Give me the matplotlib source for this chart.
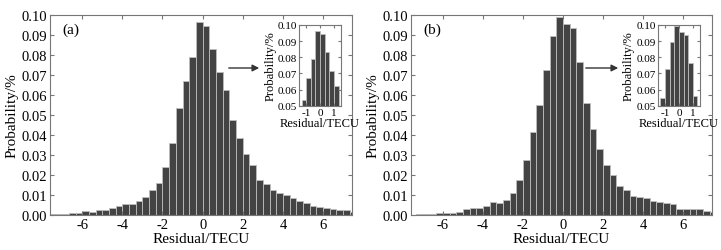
import numpy as np
import matplotlib
matplotlib.use("Agg")
import matplotlib.pyplot as plt

plt.rcParams["font.family"] = ["Liberation Serif", "DejaVu Serif"]
plt.rcParams["axes.unicode_minus"] = False

# bin index k -> bin [k/3, (k+1)/3] in TECU
bin_k = list(range(-23, 23))

prob_a = [0.0003, 0.0005, 0.0005, 0.0008, 0.0012, 0.0018, 0.0017, 0.0025,
          0.0025, 0.0035, 0.0045, 0.0055, 0.0057, 0.007, 0.009, 0.0125,
          0.016, 0.024, 0.036, 0.0535, 0.067, 0.079, 0.0965,
          0.0945, 0.083, 0.0715, 0.0625, 0.0475, 0.0385, 0.0305, 0.025,
          0.0175, 0.0155, 0.0125, 0.011, 0.0098, 0.0083, 0.0068, 0.0058,
          0.0045, 0.004, 0.0035, 0.003, 0.0025, 0.0023, 0.0015]

prob_b = [0.0002, 0.0003, 0.0005, 0.0005, 0.0008, 0.001, 0.0012, 0.0017,
          0.003, 0.0033, 0.0037, 0.0043, 0.0063, 0.0062, 0.0077, 0.011,
          0.0175, 0.0273, 0.0415, 0.055, 0.0725, 0.0895, 0.099,
          0.0955, 0.0935, 0.0765, 0.056, 0.043, 0.033, 0.025, 0.0198,
          0.0145, 0.0127, 0.0097, 0.0088, 0.0087, 0.0072, 0.0067, 0.006,
          0.0055, 0.003, 0.0032, 0.0032, 0.0028, 0.0018, 0.0013]

panels = [
    ("(a)", prob_a, [0.0695, 0.1394, 0.4189, 0.7968], [0.415, 0.574, 0.058, 0.323], (226, 262)),
    ("(b)", prob_b, [0.5700, 0.1394, 0.4175, 0.7968], [0.9126, 0.574, 0.058, 0.323], (583, 621)),
]

BAR = "#434343"
EDGE = "#bdbdbd"
FRAME = "#777777"

fig = plt.figure(figsize=(7.21, 2.51), dpi=100)
edges = np.array(bin_k) / 3.0

for label, prob, main_rect, inset_rect, arrow_x in panels:
    ax = fig.add_axes(main_rect)
    ax.bar(edges, prob, width=1 / 3, align="edge", color=BAR,
           edgecolor=EDGE, linewidth=0.6)
    ax.set_xlim(-7.6, 7.45)
    ax.set_ylim(0, 0.1)
    ax.set_xticks([-6, -4, -2, 0, 2, 4, 6])
    ax.set_yticks(np.arange(0, 0.101, 0.01))
    ax.yaxis.set_major_formatter(matplotlib.ticker.FormatStrFormatter("%.2f"))
    ax.tick_params(direction="in", top=True, right=True, labelsize=10.5,
                   length=3, color=FRAME, pad=2)
    for s in ax.spines.values():
        s.set_color(FRAME)
    ax.set_xlabel("Residual/TECU", fontsize=11, labelpad=1)
    ax.set_ylabel("Probability/%", fontsize=11, labelpad=2)
    ax.text(0.04, 0.93, label, transform=ax.transAxes, fontsize=11,
            va="center", ha="left")

    # zoomed inset around the peak
    ins = fig.add_axes(inset_rect)
    ins.bar(edges, prob, width=1 / 3, align="edge", color=BAR,
            edgecolor=EDGE, linewidth=0.6)
    ins.set_xlim(-1.5, 1.5)
    ins.set_ylim(0.05, 0.10)
    ins.set_xticks([-1, 0, 1])
    ins.set_yticks(np.arange(0.05, 0.1001, 0.01))
    ins.yaxis.set_major_formatter(matplotlib.ticker.FormatStrFormatter("%.2f"))
    ins.tick_params(direction="in", top=True, right=True, labelsize=8,
                    length=2, color=FRAME, pad=1.5)
    for s in ins.spines.values():
        s.set_color(FRAME)
    ins.set_xlabel("Residual/TECU", fontsize=9, labelpad=0)
    ins.set_ylabel("Probability/%", fontsize=9, labelpad=1)

    # arrow pointing to the inset (figure pixel coords, y from top)
    x0, x1 = arrow_x
    y = 1 - 69 / 251
    fig.add_artist(matplotlib.patches.FancyArrowPatch(
        (x0 / 721, y), (x1 / 721, y), transform=fig.transFigure,
        arrowstyle="-|>", mutation_scale=10, color="#333333", lw=1))

fig.savefig("out.png", dpi=100, facecolor="white")
